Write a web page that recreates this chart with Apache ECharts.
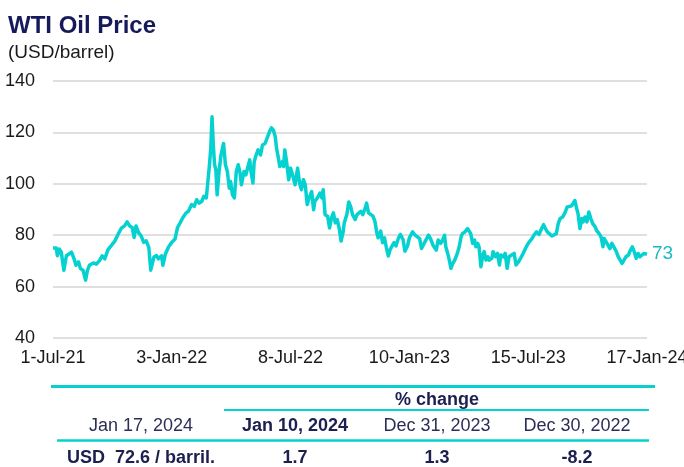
<!DOCTYPE html>
<html>
<head>
<meta charset="utf-8">
<title>WTI Oil Price</title>
<script src="https://cdn.jsdelivr.net/npm/echarts@6/dist/echarts.min.js"></script>
<style>
  html, body { margin: 0; padding: 0; background: #fff; }
  #chart { width: 684px; height: 467px; }
</style>
</head>
<body>
<div id="chart"></div>
<script>
// days since 1-Jul-21
const days = [
  0, 5, 7, 10, 13, 17, 21, 25, 29, 33, 36, 40, 43, 47, 51, 54, 57, 63, 68, 73,
  77, 81, 86, 91, 97, 102, 107, 112, 116, 120, 124, 127, 130, 134, 138, 142, 146, 150, 153, 155,
  158, 162, 165, 170, 172, 176, 181, 186, 191, 195,
  199, 203, 208, 212, 217, 221, 225, 229, 233, 236, 240, 242, 245, 247, 249, 251, 253, 255, 257, 260,
  263, 267, 270, 273, 276, 278, 281, 284, 287, 290, 293, 295, 299, 302, 306, 308, 310, 313, 315, 318,
  321, 325, 328, 332, 336, 339, 342, 345, 348, 350, 353, 355, 359, 361, 363, 366, 369, 372, 375, 379,
  383, 386,
  389, 392, 395, 398, 401, 405, 408, 410, 414, 418, 421, 423, 426, 430, 433, 436, 439, 442, 445, 448,
  451, 454, 456, 460, 463, 466, 469, 473, 476, 479, 482, 485, 489, 491, 494, 497, 501, 504, 507, 509,
  513, 516, 519, 522, 525, 528, 531, 534, 537, 541, 544, 548, 551, 555, 558,
  563, 567, 570, 574, 577, 581, 584, 588, 591, 595, 600, 603, 607, 610, 613, 615, 618, 621, 623, 626,
  629, 633, 636, 639, 641, 645, 649, 652, 654, 657, 660, 662, 665, 667, 670, 673, 675, 678, 681, 683,
  687, 689, 693, 696, 699, 701, 705, 708, 711, 714, 718, 722, 725, 729, 732, 736, 741, 744,
  747, 750, 753, 757, 761, 765, 768, 771, 774, 777, 781, 784, 788, 791, 794, 798, 802, 805, 808, 812,
  815, 817, 820, 822, 825, 828, 830, 833, 836, 839, 842, 845, 849, 851, 855, 858, 861, 863, 866, 869,
  872, 875, 878, 882, 885, 888, 891, 894, 897, 901, 903, 907, 910, 913, 916, 919, 922, 925, 930
];

// USD/barrel
const prices = [
  75.0, 75.0, 72.0, 74.6, 73.4, 66.4, 72.0, 72.7, 73.4, 70.8, 68.3, 69.6, 67.0, 66.4, 62.5, 66.4, 68.3, 69.2, 68.7, 70.2,
  72.0, 70.8, 74.3, 75.9, 77.8, 80.4, 82.7, 83.6, 85.2, 83.6, 83.0, 79.1, 83.6, 81.0, 79.7, 77.2, 77.8, 75.3, 66.4, 65.7,
  71.5, 72.1, 70.8, 72.0, 68.3, 72.7, 75.5, 77.2, 78.5, 83.0,
  84.8, 86.7, 88.6, 89.3, 91.9, 91.2, 93.8, 92.5, 93.2, 95.1, 94.5, 99.6, 107.4, 113.8, 126.1, 115.1, 107.4, 105.4, 95.7, 104.8,
  111.2, 115.7, 107.4, 104.8, 98.3, 100.9, 95.7, 94.5, 104.8, 107.4, 104.1, 99.6, 104.8, 103.5, 107.4, 109.3, 104.8, 100.3, 108.6, 111.2,
  113.2, 111.2, 115.1, 115.7, 118.3, 120.3, 121.8, 120.9, 118.3, 113.8, 109.9, 106.7, 108.6, 106.7, 113.2, 108.0, 101.6, 106.1, 103.5, 99.6,
  106.1, 100.3,
  97.7, 101.6, 99.6, 91.9, 94.5, 97.0, 89.9, 93.2, 94.5, 96.4, 94.5, 97.7, 88.0, 87.4, 82.8, 86.7, 88.7, 84.8, 86.1, 82.8,
  77.7, 80.9, 84.8, 88.0, 92.9, 91.2, 88.0, 86.1, 88.0, 87.4, 89.3, 88.0, 90.6, 92.5, 88.7, 88.0, 87.4, 85.4, 80.9, 79.0,
  81.6, 77.1, 79.0, 75.1, 71.9, 74.5, 75.8, 77.1, 75.8, 79.0, 80.3, 78.3, 73.8, 75.8, 79.0,
  81.3, 80.0, 80.6, 78.7, 74.8, 76.8, 77.4, 80.0, 78.7, 76.1, 74.2, 78.1, 76.8, 78.1, 80.0, 75.5, 72.9, 69.7, 67.1, 69.0,
  70.3, 72.9, 75.5, 79.4, 80.6, 81.3, 82.6, 83.2, 80.6, 76.8, 78.1, 75.5, 76.8, 75.5, 67.7, 72.3, 73.6, 70.3, 71.6, 70.3,
  71.0, 73.6, 71.6, 72.9, 68.4, 72.3, 71.6, 72.9, 67.1, 71.6, 72.3, 72.9, 68.4, 69.7, 71.0, 72.9, 75.5, 76.8,
  76.5, 78.7, 80.0, 81.3, 80.3, 82.6, 84.1, 82.6, 81.3, 81.9, 79.7, 80.0, 80.6, 84.5, 86.5, 87.1, 89.0, 91.0, 90.6, 91.4,
  91.0, 93.5, 90.3, 88.4, 82.6, 86.5, 85.2, 87.1, 85.2, 89.0, 86.5, 84.5, 83.2, 81.9, 80.6, 79.4, 75.5, 78.7, 77.4, 78.1,
  74.8, 76.8, 75.5, 73.6, 71.6, 70.3, 69.0, 69.7, 71.6, 72.3, 73.6, 75.5, 73.6, 71.0, 72.9, 71.6, 72.3, 72.9, 72.6
];

const tickLabels = ["1-Jul-21", "3-Jan-22", "8-Jul-22", "10-Jan-23", "15-Jul-23", "17-Jan-24"];
const tickStep = 186;

// table under the chart
const tableDates = ["Jan 17, 2024", "Jan 10, 2024", "Dec 31, 2023", "Dec 30, 2022"];
const tableValues = ["USD  72.6 / barril.", "1.7", "1.3", "-8.2"];
const changeHeader = "% change";

const FONT = "'Liberation Sans', Arial, sans-serif";
const TEAL = "#05d2d0";
const NAVY = "#1c1f4f";
const columnX = [141, 295, 437, 577];

function buildTable() {
  const items = [
    { type: "line", shape: { x1: 51, y1: 386.5, x2: 655, y2: 386.5 }, style: { stroke: TEAL, lineWidth: 3 } },
    { type: "line", shape: { x1: 224, y1: 410, x2: 649, y2: 410 }, style: { stroke: TEAL, lineWidth: 2 } },
    { type: "line", shape: { x1: 57, y1: 440.5, x2: 649, y2: 440.5 }, style: { stroke: TEAL, lineWidth: 2.5 } },
    {
      type: "text",
      style: {
        text: changeHeader, x: 437, y: 400, textAlign: "center", textVerticalAlign: "middle",
        font: "bold 18px " + FONT, fill: NAVY
      }
    }
  ];

  tableDates.forEach((label, i) => {
    items.push({
      type: "text",
      style: {
        text: label, x: columnX[i], y: 426, textAlign: "center", textVerticalAlign: "middle",
        font: (i === 1 ? "bold " : "") + "18px " + FONT, fill: i === 1 ? NAVY : "#2c2f55"
      }
    });
  });

  tableValues.forEach((label, i) => {
    items.push({
      type: "text",
      style: {
        text: label, x: columnX[i], y: 458, textAlign: "center", textVerticalAlign: "middle",
        font: "bold 18px " + FONT, fill: NAVY
      }
    });
  });

  return items;
}

const chart = echarts.init(document.getElementById("chart"));

chart.setOption({
  animation: false,
  title: {
    text: "WTI Oil Price",
    subtext: "(USD/barrel)",
    left: 3,
    top: 9,
    itemGap: 5,
    textStyle: { fontFamily: FONT, fontSize: 24, fontWeight: "bold", color: "#171a5a" },
    subtextStyle: { fontFamily: FONT, fontSize: 19, color: "#1a1a1a" }
  },
  grid: { left: 53, right: 37, top: 81, bottom: 129, containLabel: false, outerBoundsMode: "none" },
  xAxis: {
    type: "value",
    min: 0,
    max: tickStep * (tickLabels.length - 1),
    interval: tickStep,
    axisLine: { show: false },
    axisTick: { show: false },
    splitLine: { show: false },
    axisLabel: {
      color: "#1a1a1a",
      fontFamily: FONT,
      fontSize: 18,
      margin: 11,
      formatter: (value) => tickLabels[Math.round(value / tickStep)] ?? ""
    }
  },
  yAxis: {
    type: "value",
    min: 40,
    max: 140,
    interval: 20,
    axisLine: { show: false },
    axisTick: { show: false },
    axisLabel: { color: "#1a1a1a", fontFamily: FONT, fontSize: 18, margin: 18 },
    splitLine: { lineStyle: { color: "#d6d6d6", width: 1.5 } }
  },
  series: [
    {
      type: "line",
      data: days.map((day, i) => [day, prices[i]]),
      showSymbol: false,
      lineStyle: { color: TEAL, width: 3.5, join: "round" },
      itemStyle: { color: TEAL },
      endLabel: {
        show: true,
        distance: 5,
        color: "#1cbac4",
        fontFamily: FONT,
        fontSize: 19,
        formatter: (params) => String(Math.round(params.value[1]))
      }
    }
  ],
  graphic: buildTable()
});
</script>
</body>
</html>
